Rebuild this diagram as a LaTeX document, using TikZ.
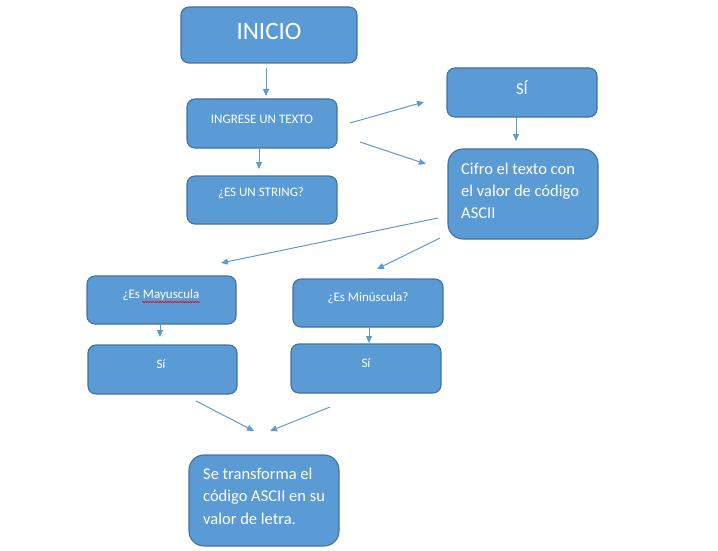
\documentclass[tikz,border=0pt]{standalone}
\usepackage{fontspec}
\setmainfont{Carlito}
\usetikzlibrary{arrows.meta,decorations.pathmorphing}
\definecolor{boxfill}{HTML}{5B9BD5}
\definecolor{boxline}{HTML}{41719C}
\definecolor{arr}{HTML}{5B9BD5}
\tikzset{
  box/.style={draw=boxline, fill=boxfill, line width=1.1pt, rounded corners=8pt, inner sep=0pt},
  bigbox/.style={box, rounded corners=15pt},
  txt/.style={text=white, inner sep=0pt, font=\fontsize{13}{15}\selectfont},
  conn/.style={draw=arr, line width=1pt, -{Triangle[length=7pt,width=6pt]}}
}
\begin{document}
\begin{tikzpicture}[x=1pt,y=-1pt]
\useasboundingbox (0,0) rectangle (718,551);
% boxes
\node[box, minimum width=176pt, minimum height=56pt] (inicio) at (269,35) {};
\node[txt, font=\fontsize{25}{28}\selectfont] (tinicio) at (269,31) {INICIO};
\node[box, minimum width=150pt, minimum height=49pt] (ingrese) at (262,123.5) {};
\node[txt] (tingrese) at (262,119) {INGRESE UN TEXTO};
\node[box, minimum width=150pt, minimum height=48pt] (string) at (262,200) {};
\node[txt] (tstring) at (261,193) {¿ES UN STRING?};
\node[box, minimum width=150pt, minimum height=49pt] (si) at (522,92.5) {};
\node[txt, font=\fontsize{16.5}{20}\selectfont] (tsi) at (522,88) {SÍ};
\node[bigbox, minimum width=150pt, minimum height=90pt] (cifro) at (523,194) {};
\node[txt, font=\fontsize{16.5}{22}\selectfont, align=left, anchor=north west] (tcifro) at (461,162.5) {Cifro el texto con\\el valor de código\\ASCII};
\node[box, minimum width=149pt, minimum height=48pt] (mayus) at (161.5,300) {};
\node[txt] (tmayus) at (161,295) {¿Es Mayuscula};
\node[box, minimum width=150pt, minimum height=48pt] (minus) at (368,303) {};
\node[txt] (tminus) at (368,298) {¿Es Minúscula?};
\node[box, minimum width=149pt, minimum height=49pt] (sil) at (162.5,369.5) {};
\node[txt] (tsil) at (161,364) {Sí};
\node[box, minimum width=150pt, minimum height=49pt] (sir) at (366,368.5) {};
\node[txt] (tsir) at (366,363) {Sí};
\node[bigbox, minimum width=150pt, minimum height=91pt] (transf) at (264,500.5) {};
\node[txt, font=\fontsize{16.5}{22.5}\selectfont, align=left, anchor=north west] (ttransf) at (203,467.5) {Se transforma el\\código ASCII en su\\valor de letra.};
% spell-check underline
\coordinate (sq1) at (142,302);
\coordinate (sq2) at (200,302);
\draw[red, line width=0.6pt, decorate, decoration={snake, amplitude=0.6pt, segment length=2.5pt}] (sq1) -- (sq2);
% arrow end points
\coordinate (a1s) at (266,68);  \coordinate (a1e) at (266,96);
\coordinate (a2s) at (350,123); \coordinate (a2e) at (424,102);
\coordinate (a3s) at (360,142); \coordinate (a3e) at (426,164);
\coordinate (a4s) at (516,118); \coordinate (a4e) at (516,141);
\coordinate (a5s) at (259,149); \coordinate (a5e) at (259,169);
\coordinate (a6s) at (438,218); \coordinate (a6e) at (221,263);
\coordinate (a7s) at (440,238); \coordinate (a7e) at (377,269);
\coordinate (a8s) at (160,325); \coordinate (a8e) at (160,337);
\coordinate (a9s) at (369,328); \coordinate (a9e) at (369,343);
\coordinate (a10s) at (196,401); \coordinate (a10e) at (254,431);
\coordinate (a11s) at (330,407); \coordinate (a11e) at (270,431);
\foreach \i in {1,...,11} \draw[conn] (a\i s) -- (a\i e);
\end{tikzpicture}
\end{document}
